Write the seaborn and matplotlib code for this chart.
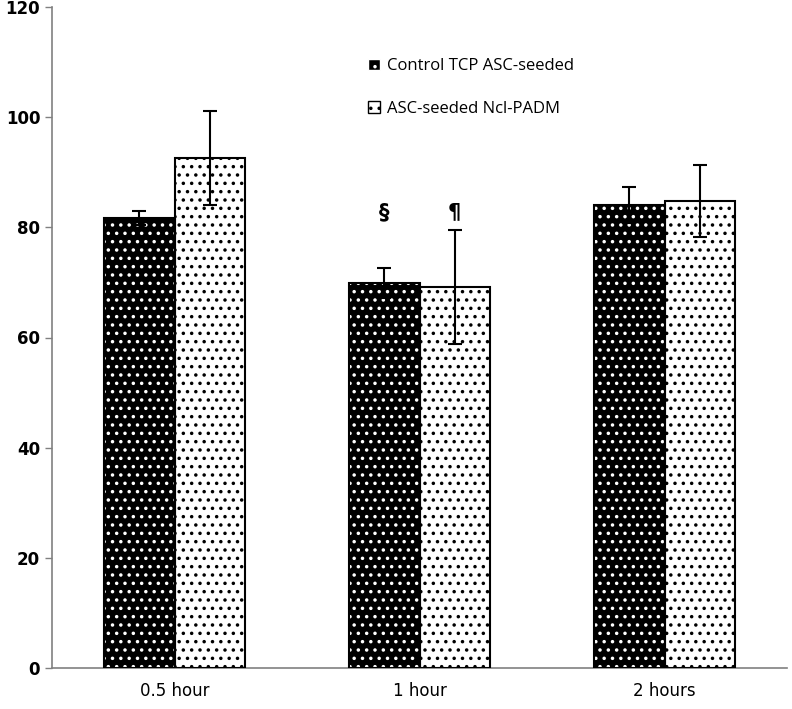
import matplotlib
matplotlib.use("Agg")
import matplotlib.pyplot as plt
import seaborn as sns
import pandas as pd
import numpy as np
from matplotlib.patches import Patch

categories = ["0.5 hour", "1 hour", "2 hours"]
series_names = ["Control TCP ASC-seeded", "ASC-seeded Ncl-PADM"]
control_vals = [81.7, 69.9, 84.1]
control_err = [1.2, 2.8, 3.3]
padm_vals = [92.6, 69.2, 84.8]
padm_err = [8.6, 10.3, 6.6]
annotations = ["§", "¶"]
yticks = [0, 20, 40, 60, 80, 100, 120]

df = pd.DataFrame({
    "time": categories * 2,
    "group": [series_names[0]] * 3 + [series_names[1]] * 3,
    "value": control_vals + padm_vals,
})

sns.set_style("white")
plt.rcParams["hatch.linewidth"] = 1.3
plt.rcParams["text.color"] = "black"
plt.rcParams["xtick.color"] = "black"
plt.rcParams["ytick.color"] = "black"

fig = plt.figure(figsize=(7.92, 7.09), dpi=100)
ax = fig.add_axes([52 / 792, 41 / 709, 735 / 792, 661 / 709])

sns.barplot(data=df, x="time", y="value", hue="group", order=categories,
            hue_order=series_names, errorbar=None, width=0.575,
            palette=["black", "white"], ax=ax, legend=False, saturation=1)

bars = list(ax.patches)
n = len(categories)
centers = []
for i, p in enumerate(bars[:2 * n]):
    ctrl = i < n
    x0, w, h = p.get_x(), p.get_width(), p.get_height()
    centers.append(x0 + w / 2)
    if ctrl:
        p.set_facecolor("black")
        p.set_edgecolor("white")
    else:
        p.set_facecolor("white")
        p.set_edgecolor("black")
    p.set_hatch("..")
    p.set_linewidth(0)
    ax.bar(x0 + w / 2, h, width=w, fill=False, edgecolor="black", linewidth=1.5, zorder=3)

vals = control_vals + padm_vals
errs = control_err + padm_err
ax.errorbar(centers, vals, yerr=errs, fmt="none", ecolor="black",
            elinewidth=1.5, capsize=5, capthick=1.5, zorder=4)

ax.text(centers[1], 82.8, annotations[0], ha="center", va="center",
        fontsize=15, fontweight="bold")
ax.text(centers[n + 1], 82.8, annotations[1], ha="center", va="center",
        fontsize=15, fontweight="bold")

ax.set_ylim(0, 120)
ax.set_xlim(-0.5, n - 0.5)
ax.set_yticks(yticks)
ax.set_yticklabels([str(t) for t in yticks], fontsize=12, fontweight="bold",
                   family="DejaVu Sans")
ax.set_xticks(range(n))
ax.set_xticklabels(categories, fontsize=12, family="DejaVu Sans")
ax.tick_params(axis="x", length=0, pad=10)
ax.set_xticks([0.5, 1.5, 2.5], minor=True)
ax.tick_params(axis="x", which="minor", length=6, direction="out", color="#808080", width=1)
ax.tick_params(axis="y", length=5, direction="out", color="#808080", width=1, left=True)
ax.set_xlabel("")
ax.set_ylabel("")

for s in ["top", "right"]:
    ax.spines[s].set_visible(False)
for s in ["left", "bottom"]:
    ax.spines[s].set_color("#808080")
    ax.spines[s].set_linewidth(1.2)

handles = [Patch(facecolor="black", edgecolor="white", hatch="..", label=series_names[0]),
           Patch(facecolor="white", edgecolor="black", hatch="..", label=series_names[1])]
leg = ax.legend(handles=handles, loc="upper left", bbox_to_anchor=(0.41, 0.945),
                frameon=False, handlelength=0.7, handleheight=0.7,
                labelspacing=1.6, handletextpad=0.4, prop={"family": "Open Sans", "size": 12})
for t in leg.get_texts():
    t.set_color("black")

fig.savefig("out.png", dpi=100)
